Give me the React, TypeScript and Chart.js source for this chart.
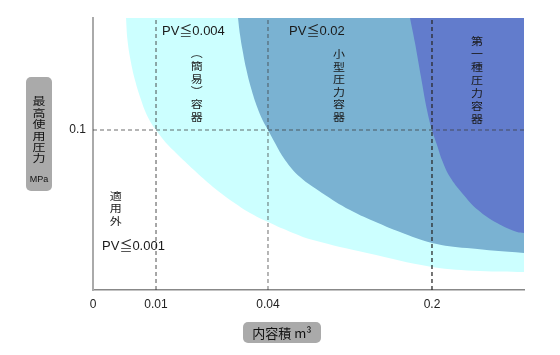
import React, { useEffect, useRef } from 'react';
import { Chart, registerables } from 'chart.js';

Chart.register(...registerables);

// Schematic axes (not to scale): positions of the tick values along each axis (0-100)
const xTickValues = [0, 14.62, 40.6, 78.65];
const xTickLabels = ['0', '0.01', '0.04', '0.2'];
const yTickValues = [58.8];
const yTickLabels = ['0.1'];

// Boundary PV = 0.001
const pv001X = [7.66, 8.0, 8.7, 9.74, 11.14, 12.18, 13.34, 14.62, 16.01, 17.63, 19.26, 23.43, 27.84, 33.18, 36.43, 40.6, 46.4, 51.04, 63.57, 78.65, 89.79, 100];
const pv001Y = [100, 91.9, 84.6, 77.2, 69.9, 65.4, 61.8, 58.8, 55.9, 52.9, 50.4, 44.1, 37.9, 31.6, 28.3, 25.0, 21.0, 18.4, 13.6, 8.5, 7.0, 6.6];

// Boundary PV = 0.004
const pv004X = [33.64, 34.11, 34.69, 35.5, 36.66, 38.17, 39.33, 40.6, 42.23, 44.55, 48.03, 53.13, 59.63, 66.13, 71.23, 78.65, 86.77, 100];
const pv004Y = [100, 93.8, 88.2, 81.6, 74.3, 66.9, 62.5, 58.8, 54.0, 47.8, 41.5, 35.7, 29.4, 24.6, 21.3, 17.3, 15.4, 13.6];

// Boundary PV = 0.02
const pv02X = [73.55, 74.71, 76.1, 77.49, 78.65, 79.81, 80.97, 82.83, 85.61, 89.33, 93.74, 98.38, 100];
const pv02Y = [100, 90.8, 78.3, 66.2, 58.8, 53.3, 47.8, 41.5, 35.7, 29.4, 24.6, 21.3, 21.0];

// Region labels
const hLabelText = ['PV≦0.004', 'PV≦0.02', 'PV≦0.001'];
const hLabelX = [16.0, 45.5, 2.1];
const hLabelY = [95.2, 94.9, 16.2];

const vLabelText = ['︵簡易︶容器', '小型圧力容器', '第一種圧力容器', '適用外'];
const vLabelX = [24.1, 57.1, 89.1, 5.3];
const vLabelY = [87.1, 86.7, 91.7, 34.6];

const yTitleChars = '最高使用圧力';
const yTitleUnit = 'MPa';
const xTitle = '内容積 m³';

const regionColors = ['#CCFFFF', '#7AB2D2', '#627CCC'];
const xGuideColors = ['rgba(0,0,0,0)', 'rgba(60,60,60,0.6)', 'rgba(60,60,60,0.5)', 'rgba(40,40,40,0.85)'];
const yGuideColor = 'rgba(60,60,60,0.5)';

const LATIN = '"Liberation Sans", Arial, "Noto Sans CJK JP", sans-serif';
const CJK = '"Noto Sans CJK JP", sans-serif';

const toPts = (xs: number[], ys: number[]) => xs.map((x, i) => ({ x, y: ys[i] }));

function squashChar(ctx: any, ch: string, x: number, y: number, sy: number) {
  ctx.save();
  ctx.translate(x, y);
  ctx.scale(1, sy);
  ctx.fillText(ch, 0, 0);
  ctx.restore();
}

const labelPlugin = {
  id: 'diagramLabels',
  afterDraw(chart: any) {
    const { ctx } = chart;
    const xs = chart.scales.x;
    const ys = chart.scales.y;
    ctx.save();
    ctx.fillStyle = '#1a1a1a';
    ctx.textBaseline = 'middle';

    ctx.font = '13px ' + LATIN;
    ctx.textAlign = 'left';
    hLabelText.forEach((t, i) => {
      ctx.fillText(t, xs.getPixelForValue(hLabelX[i]), ys.getPixelForValue(hLabelY[i]));
    });

    ctx.font = '12px ' + CJK;
    ctx.textAlign = 'center';
    const pitch = [12.7, 12.5, 13, 12.3];
    vLabelText.forEach((t, i) => {
      const cx = xs.getPixelForValue(vLabelX[i]);
      const cy = ys.getPixelForValue(vLabelY[i]);
      Array.from(t).forEach((ch, k) => squashChar(ctx, ch, cx, cy + k * pitch[i], 0.88));
    });

    // y axis title box
    ctx.fillStyle = '#aaaaaa';
    ctx.beginPath();
    ctx.roundRect(26, 77, 26, 114, 5);
    ctx.fill();
    ctx.fillStyle = '#111';
    ctx.font = '13px ' + CJK;
    Array.from(yTitleChars).forEach((ch, k) => squashChar(ctx, ch, 39, 101.5 + k * 11.4, 0.8));
    ctx.font = '9px ' + LATIN;
    ctx.fillText(yTitleUnit, 39, 180);

    // x axis title box
    ctx.fillStyle = '#aaaaaa';
    ctx.beginPath();
    ctx.roundRect(243, 322, 78, 21, 5);
    ctx.fill();
    ctx.fillStyle = '#111';
    ctx.font = '13px ' + CJK;
    ctx.fillText(xTitle, 282, 333);

    ctx.restore();
  },
};

export default function App() {
  const ref = useRef<HTMLCanvasElement | null>(null);

  useEffect(() => {
    if (!ref.current) return;
    const area = (xs: number[], ys: number[], color: string, order: number) => ({
      data: toPts(xs, ys),
      fill: 'end',
      backgroundColor: color,
      borderColor: 'rgba(0,0,0,0)',
      borderWidth: 0,
      pointRadius: 0,
      tension: 0.4,
      order,
    });
    const guides: any[] = [];
    xTickValues.forEach((v, i) => {
      if (i === 0) return;
      guides.push({
        data: [{ x: v, y: 0 }, { x: v, y: 100 }],
        borderColor: xGuideColors[i],
        borderWidth: 1.5,
        borderDash: [4, 3],
        pointRadius: 0,
        fill: false,
        order: 0,
      });
    });
    yTickValues.forEach((v) => {
      guides.push({
        data: [{ x: 0, y: v }, { x: 100, y: v }],
        borderColor: yGuideColor,
        borderWidth: 1.5,
        borderDash: [4, 3],
        pointRadius: 0,
        fill: false,
        order: 0,
      });
    });

    const chart = new Chart(ref.current, {
      type: 'line',
      data: {
        datasets: [
          area(pv001X, pv001Y, regionColors[0], 3),
          area(pv004X, pv004Y, regionColors[1], 2),
          area(pv02X, pv02Y, regionColors[2], 1),
          ...guides,
        ] as any,
      },
      options: {
        responsive: false,
        animation: false,
        layout: { padding: { top: 18, right: 36, left: 0, bottom: 0 } },
        plugins: { legend: { display: false }, tooltip: { enabled: false } },
        scales: {
          x: {
            type: 'linear',
            min: 0,
            max: 100,
            grid: { display: false, drawTicks: false },
            border: { display: true, color: '#888', width: 1.5 },
            afterBuildTicks: (s: any) => {
              s.ticks = xTickValues.map((v) => ({ value: v }));
            },
            afterFit: (s: any) => {
              s.height = 65;
            },
            ticks: {
              callback: (_v: any, i: number) => xTickLabels[i],
              font: { size: 12, family: LATIN },
              color: '#222',
              padding: 7,
              maxRotation: 0,
              autoSkip: false,
            },
          },
          y: {
            type: 'linear',
            min: 0,
            max: 100,
            grid: { display: false, drawTicks: false },
            border: { display: true, color: '#aaa', width: 2 },
            afterBuildTicks: (s: any) => {
              s.ticks = yTickValues.map((v) => ({ value: v }));
            },
            afterFit: (s: any) => {
              s.width = 93;
            },
            ticks: {
              callback: (_v: any, i: number) => yTickLabels[i],
              font: { size: 12, family: LATIN },
              color: '#222',
              padding: 7,
              autoSkip: false,
            },
          },
        },
      } as any,
      plugins: [labelPlugin],
    });
    return () => chart.destroy();
  }, []);

  return (
    <div style={{ position: 'absolute', left: 0, top: 0, width: 560, height: 355, background: '#fff' }}>
      <canvas ref={ref} width={560} height={355} style={{ display: 'block' }} />
    </div>
  );
}
